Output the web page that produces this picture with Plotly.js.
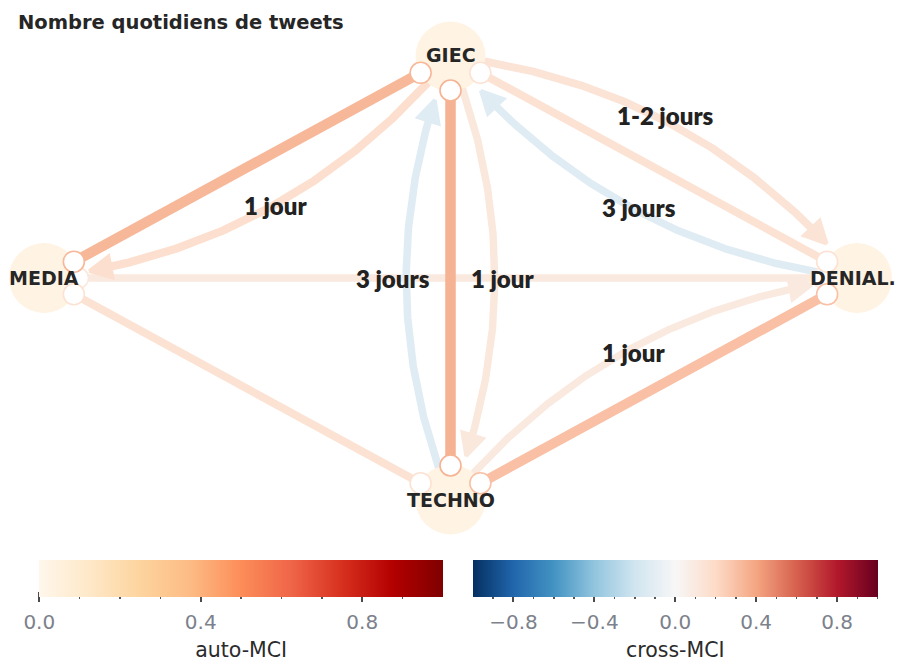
<!DOCTYPE html>
<html><head><meta charset="utf-8">
<script src="https://cdn.plot.ly/plotly-3.0.1.min.js"></script>
<style>html,body{margin:0;padding:0;background:#fff}</style>
</head><body><div id="chart" style="width:899px;height:662px"></div>
<script>
// ---------------- data ----------------
const nodeNames = ['GIEC', 'MEDIA', 'TECHNO', 'DENIAL.'];
const nodeAutoMCI = [0.03, 0.03, 0.03, 0.03];

// contemporaneous (undirected) links
const contSource = ['MEDIA', 'GIEC', 'GIEC', 'GIEC', 'MEDIA', 'TECHNO'];
const contTarget = ['DENIAL.', 'MEDIA', 'TECHNO', 'DENIAL.', 'TECHNO', 'DENIAL.'];
const contMCI    = [0.10, 0.33, 0.35, 0.15, 0.15, 0.30];

// lagged (directed) links
const lagSource = ['GIEC', 'GIEC', 'DENIAL.', 'TECHNO', 'GIEC', 'TECHNO'];
const lagTarget = ['MEDIA', 'DENIAL.', 'GIEC', 'GIEC', 'TECHNO', 'DENIAL.'];
const lagMCI    = [0.17, 0.14, -0.12, -0.12, 0.11, 0.10];
const lagLabels = ['1 jour', '1-2 jours', '3 jours', '3 jours', '1 jour', '1 jour'];

const titleText = 'Nombre quotidiens de tweets';
const autoTickVals = [0, 0.4, 0.8];
const autoTickText = ['0.0', '0.4', '0.8'];
const autoMinorVals = [0.1, 0.2, 0.3, 0.5, 0.6, 0.7, 0.9];
const crossTickVals = [-0.8, -0.4, 0, 0.4, 0.8];
const crossTickText = ['\u22120.8', '\u22120.4', '0.0', '0.4', '0.8'];
const crossMinorVals = [-0.9, -0.7, -0.6, -0.5, -0.3, -0.2, -0.1, 0.1, 0.2, 0.3, 0.5, 0.6, 0.7, 0.9, 1.0];

// ---------------- styles / layout helpers ----------------
const W = 899, H = 662;
const RdBu_r = ['#053061','#2166ac','#4393c3','#92c5de','#d1e5f0','#f7f7f7','#fddbc7','#f4a582','#d6604d','#b2182b','#67001f'];
const OrRd = ['#fff7ec','#fee8c8','#fdd49e','#fdbb84','#fc8d59','#ef6548','#d7301f','#b30000','#7f0000'];
const toScale = s => s.map((c, i) => [i / (s.length - 1), c]);
function hex(h){ return [parseInt(h.slice(1,3),16), parseInt(h.slice(3,5),16), parseInt(h.slice(5,7),16)]; }
function cmap(stops, v, vmin, vmax){
  let f = (v - vmin) / (vmax - vmin); f = Math.max(0, Math.min(1, f));
  const p = f * (stops.length - 1); const i = Math.min(Math.floor(p), stops.length - 2); const t = p - i;
  const a = hex(stops[i]), b = hex(stops[i+1]);
  return 'rgb(' + a.map((x, k) => Math.round(x + (b[k] - x) * t)).join(',') + ')';
}
const linkWidth = v => 6 + 13 * Math.abs(v);

const ctr = [450.5, 278], RX = 406.5, RY = 221.5;
const nodeAngle = {'GIEC': 90, 'MEDIA': 180, 'TECHNO': 270, 'DENIAL.': 0};
function pos(n){ const a = nodeAngle[n] * Math.PI / 180; return [ctr[0] + RX * Math.cos(a), ctr[1] - RY * Math.sin(a)]; }

const markR = 34, curveStartR = 34, tipR = 45, headLen = 22, headHW = 11, RAD = 0.2;
// small label nudges (px) relative to the curve midpoint, per lagged link
const labelNudgeX = [6, -10, 7, -13, 8, 2];
const labelNudgeY = [-2, -11, 0, 0, 0, 4];
const FONT = 'DejaVu Sans, sans-serif';

const traces = [];
// node discs
traces.push({
  type: 'scatter', mode: 'markers', x: nodeNames.map(n => pos(n)[0]), y: nodeNames.map(n => pos(n)[1]),
  marker: {size: 70, color: nodeAutoMCI.map(v => cmap(OrRd, v, 0, 1)), line: {width: 0}},
  hoverinfo: 'skip', showlegend: false
});
// contemporaneous lines
const circX = [], circY = [], circC = [];
contSource.forEach((s, i) => {
  const a = pos(s), b = pos(contTarget[i]);
  const d = Math.hypot(b[0]-a[0], b[1]-a[1]); const u = [(b[0]-a[0])/d, (b[1]-a[1])/d];
  const A = [a[0] + markR*u[0], a[1] + markR*u[1]], B = [b[0] - markR*u[0], b[1] - markR*u[1]];
  const col = cmap(RdBu_r, contMCI[i], -1, 1);
  traces.push({type: 'scatter', mode: 'lines', x: [A[0], B[0]], y: [A[1], B[1]],
    line: {color: col, width: linkWidth(contMCI[i])}, hoverinfo: 'skip', showlegend: false});
  circX.push(A[0], B[0]); circY.push(A[1], B[1]); circC.push(col, col);
});
// lagged curved arrows
const heads = [], labelAnn = [];
lagSource.forEach((s, i) => {
  const p0 = pos(s), p2 = pos(lagTarget[i]);
  const dx = p2[0]-p0[0], dy = p2[1]-p0[1];
  const c = [(p0[0]+p2[0])/2 + RAD*dy, (p0[1]+p2[1])/2 - RAD*dx];
  const B = t => [(1-t)*(1-t)*p0[0] + 2*t*(1-t)*c[0] + t*t*p2[0], (1-t)*(1-t)*p0[1] + 2*t*(1-t)*c[1] + t*t*p2[1]];
  const N = 400, pts = [];
  for (let k = 0; k <= N; k++) pts.push(B(k / N));
  let i0 = pts.findIndex(p => Math.hypot(p[0]-p0[0], p[1]-p0[1]) >= curveStartR);
  let i1 = N; while (i1 > 0 && Math.hypot(pts[i1][0]-p2[0], pts[i1][1]-p2[1]) < tipR) i1--;
  const tip = pts[i1];
  let j = i1; while (j > i0 && Math.hypot(pts[j][0]-tip[0], pts[j][1]-tip[1]) < headLen * 0.7) j--;
  const back = pts[Math.max(i0, i1 - 6)];
  let u = [tip[0]-back[0], tip[1]-back[1]]; const ul = Math.hypot(u[0], u[1]); u = [u[0]/ul, u[1]/ul];
  const base = [tip[0] - headLen*u[0], tip[1] - headLen*u[1]]; const nrm = [-u[1], u[0]];
  const col = cmap(RdBu_r, lagMCI[i], -1, 1);
  const seg = pts.slice(i0, j + 1);
  traces.push({type: 'scatter', mode: 'lines', x: seg.map(p => p[0]), y: seg.map(p => p[1]),
    line: {color: col, width: linkWidth(lagMCI[i])}, hoverinfo: 'skip', showlegend: false});
  heads.push({type: 'scatter', mode: 'lines', fill: 'toself', fillcolor: col,
    x: [tip[0], base[0] + headHW*nrm[0], base[0] - headHW*nrm[0], tip[0]],
    y: [tip[1], base[1] + headHW*nrm[1], base[1] - headHW*nrm[1], tip[1]],
    line: {color: col, width: 3.5}, hoverinfo: 'skip', showlegend: false});
  const m = B(0.5);
  labelAnn.push({x: m[0] + labelNudgeX[i], y: m[1] + labelNudgeY[i], xref: 'x', yref: 'y', text: lagLabels[i], showarrow: false,
    font: {family: 'Lato, sans-serif', size: 24, weight: 800, color: '#222'}, xanchor: 'center', yanchor: 'middle'});
});
heads.forEach(h => traces.push(h));
// end markers
traces.push({type: 'scatter', mode: 'markers', x: circX, y: circY,
  marker: {size: 21, color: '#ffffff', line: {color: circC, width: 1.6}}, hoverinfo: 'skip', showlegend: false});

// colorbar carriers (off-screen points)
traces.push({type: 'scatter', mode: 'markers', x: [-1000], y: [-1000], hoverinfo: 'skip', showlegend: false,
  marker: {color: [0], cmin: 0, cmax: 1, colorscale: toScale(OrRd), showscale: true,
    colorbar: {orientation: 'h', x: (39.3 + 443) / 2 / W, xanchor: 'center', y: 1 - 560 / H, yanchor: 'top',
      len: 403.7, lenmode: 'pixels', thickness: 37, thicknessmode: 'pixels', outlinewidth: 0,
      ticks: '', showticklabels: false, xpad: 0, ypad: 0}}});
traces.push({type: 'scatter', mode: 'markers', x: [-1000], y: [-1000], hoverinfo: 'skip', showlegend: false,
  marker: {color: [0], cmin: -1, cmax: 1, colorscale: toScale(RdBu_r), showscale: true,
    colorbar: {orientation: 'h', x: (473 + 877.5) / 2 / W, xanchor: 'center', y: 1 - 560 / H, yanchor: 'top',
      len: 404.5, lenmode: 'pixels', thickness: 37, thicknessmode: 'pixels', outlinewidth: 0,
      ticks: '', showticklabels: false, xpad: 0, ypad: 0}}});
// tick-axis carriers
traces.push({type: 'scatter', x: [], y: [], xaxis: 'x2', yaxis: 'y2', hoverinfo: 'skip', showlegend: false});
traces.push({type: 'scatter', x: [], y: [], xaxis: 'x3', yaxis: 'y3', hoverinfo: 'skip', showlegend: false});

const tickAxis = (dom, rng, vals, text, minor, title) => ({
  domain: dom, range: rng, anchor: null, showgrid: false, zeroline: false, showline: false,
  ticks: 'outside', ticklen: 10, tickwidth: 2, tickcolor: '#4a4a4a', tickmode: 'array', tickvals: vals, ticktext: text,
  tickfont: {family: FONT, size: 20, color: '#7c818b'}, ticklabelstandoff: 3,
  minor: {tickmode: 'array', tickvals: minor, ticks: 'outside', ticklen: 7, tickwidth: 1.5, tickcolor: '#555'},
  title: {text: title, font: {family: FONT, size: 20.5, color: '#2b2b2b'}, standoff: 17}, fixedrange: true
});
const yDom = [1 - 591 / H, 1 - 560 / H];
const xa2 = tickAxis([39.3 / W, 443 / W], [0, 1], autoTickVals, autoTickText, autoMinorVals, 'auto-MCI'); xa2.anchor = 'y2';
const xa3 = tickAxis([473 / W, 877.5 / W], [-1, 1], crossTickVals, crossTickText, crossMinorVals, 'cross-MCI'); xa3.anchor = 'y3';

const nodeAnn = nodeNames.map(n => ({x: pos(n)[0] + (n === 'DENIAL.' ? -4 : 0), y: pos(n)[1] - (n === 'GIEC' ? 2 : 0), xref: 'x', yref: 'y',
  text: '<b>' + n + '</b>', showarrow: false, font: {family: FONT, size: 19, color: '#262626'}, xanchor: 'center', yanchor: 'middle'}));

const layout = {
  width: W, height: H, margin: {l: 0, r: 0, t: 0, b: 0}, paper_bgcolor: '#fff', plot_bgcolor: 'rgba(0,0,0,0)',
  showlegend: false,
  title: {text: '<b>' + titleText + '</b>', x: 18 / W, xanchor: 'left', xref: 'container', y: 1 - 22 / H, yanchor: 'middle', yref: 'container',
    font: {family: FONT, size: 19.5, color: '#262626'}},
  xaxis: {domain: [0, 1], range: [0, W], visible: false, fixedrange: true},
  yaxis: {domain: [0, 1], range: [H, 0], visible: false, fixedrange: true},
  xaxis2: xa2, yaxis2: {domain: yDom, anchor: 'x2', visible: false, range: [0, 1], fixedrange: true},
  xaxis3: xa3, yaxis3: {domain: yDom, anchor: 'x3', visible: false, range: [0, 1], fixedrange: true},
  annotations: labelAnn.concat(nodeAnn)
};
Plotly.newPlot('chart', traces, layout, {displayModeBar: false, staticPlot: true});
</script></body></html>
